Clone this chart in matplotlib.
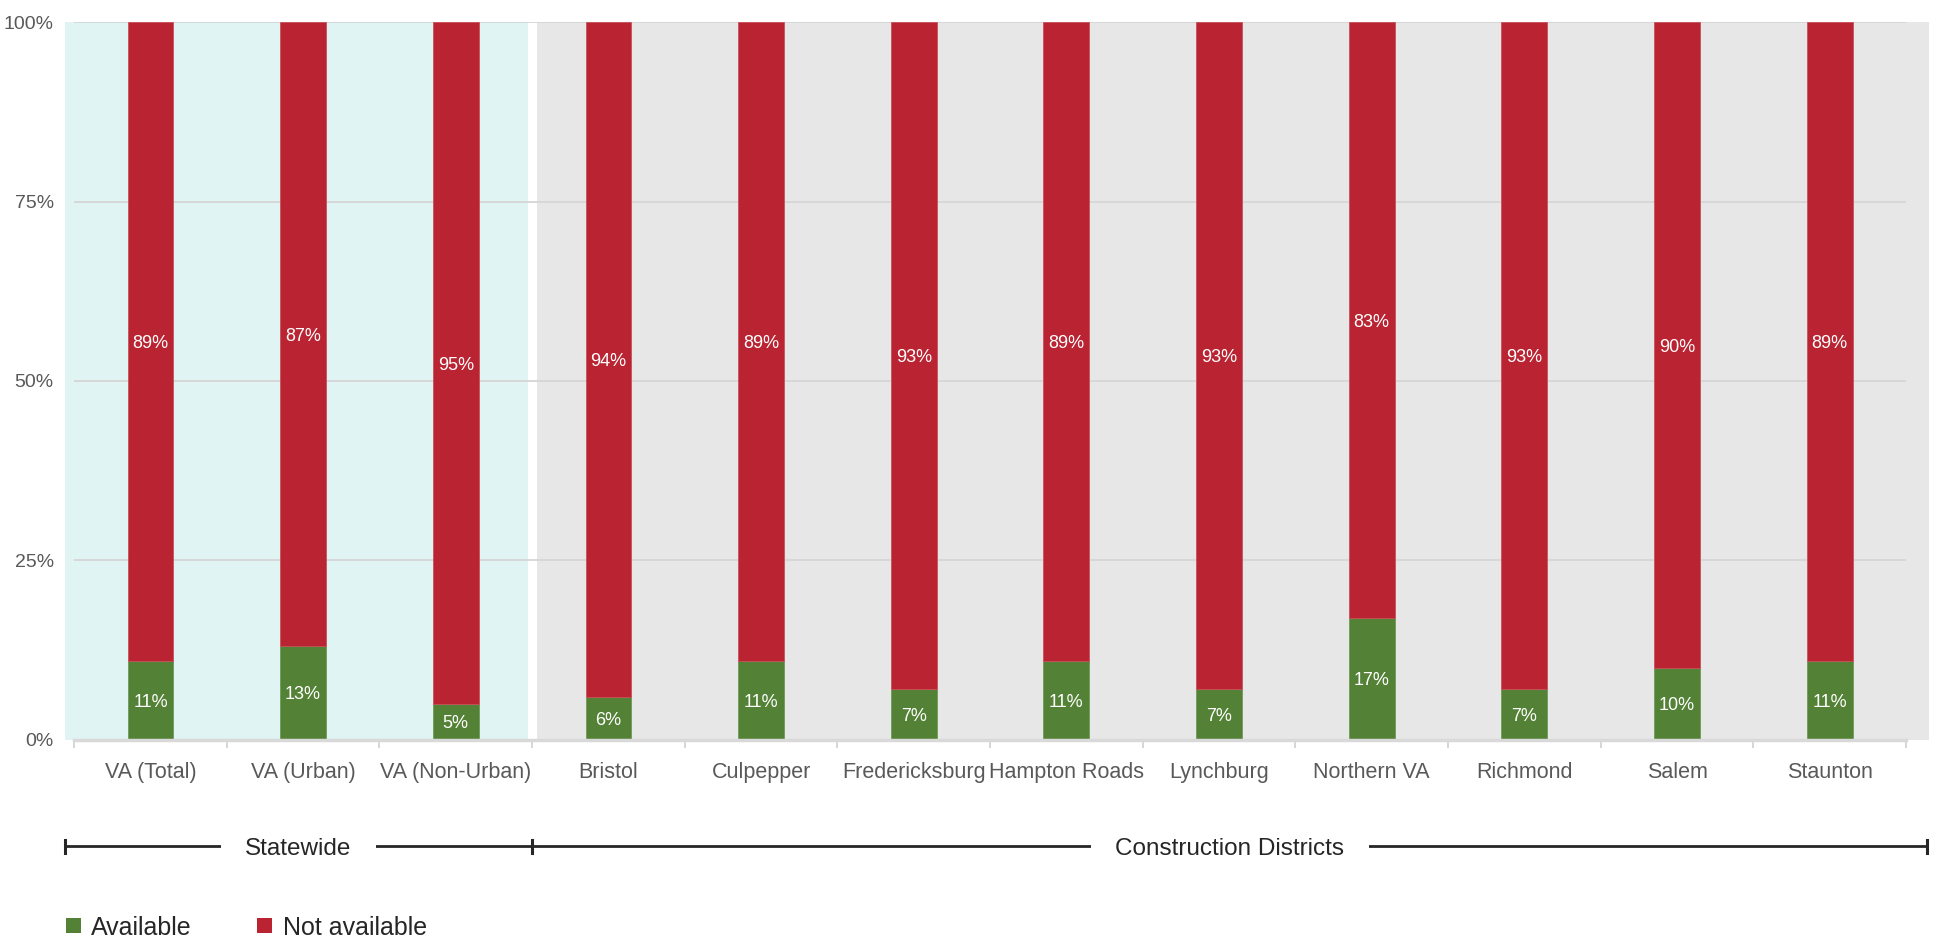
import matplotlib
matplotlib.use("Agg")
import matplotlib.pyplot as plt
from matplotlib.patches import Rectangle
from matplotlib.transforms import blended_transform_factory

categories = ["VA (Total)", "VA (Urban)", "VA (Non-Urban)", "Bristol", "Culpepper",
              "Fredericksburg", "Hampton Roads", "Lynchburg", "Northern VA",
              "Richmond", "Salem", "Staunton"]
available = [11, 13, 5, 6, 11, 7, 11, 7, 17, 7, 10, 11]
not_available = [89, 87, 95, 94, 89, 93, 89, 93, 83, 93, 90, 89]
series_names = ["Available", "Not available"]
groups = ["Statewide", "Construction Districts"]
group_sizes = [3, 9]
y_ticks = [0, 25, 50, 75, 100]

GREEN = "#538135"
RED = "#BA2331"
CYAN_BG = "#DFF4F3"
GRAY_BG = "#E7E7E7"
GRID = "#D6D6D6"
TXT = "#595959"
DARK = "#262626"

FONT = ["Liberation Sans", "DejaVu Sans"]
plt.rcParams["font.family"] = FONT

fig = plt.figure(figsize=(19.39, 9.40), dpi=100)
ax = fig.add_axes([0.0335, 0.2132, 0.9613, 0.763])
n = len(categories)
x = list(range(n))
ax.set_xlim(-0.56, 11.65)
ax.set_ylim(0, 100)

# background panels
ax.add_patch(Rectangle((-0.56, 0), 2.5 - 0.03 + 0.56, 100, facecolor=CYAN_BG, edgecolor="none", zorder=0))
ax.add_patch(Rectangle((2.53, 0), 11.65 - 2.53, 100, facecolor=GRAY_BG, edgecolor="none", zorder=0))

# gridlines
for yt in y_ticks[1:]:
    ax.plot([-0.5, 11.5], [yt, yt], color=GRID, lw=1.3, zorder=1, solid_capstyle="butt")
ax.plot([-0.5, 11.5], [0, 0], color="#D9D9D9", lw=2.5, zorder=3, clip_on=False)

bw = 0.30
ax.bar(x, available, width=bw, color=GREEN, edgecolor="#6E9A57", linewidth=0.6, zorder=2)
ax.bar(x, not_available, width=bw, bottom=available, color=RED, edgecolor="#C9505A", linewidth=0.6, zorder=2)

for i in range(n):
    ax.text(i, available[i] / 2, f"{available[i]}%", ha="center", va="center_baseline",
            color="white", fontsize=13, zorder=4)
    ax.text(i, available[i] + not_available[i] / 2, f"{not_available[i]}%", ha="center",
            va="center_baseline", color="white", fontsize=13, zorder=4)

for s in ax.spines.values():
    s.set_visible(False)

ax.set_yticks(y_ticks)
ax.set_yticklabels([f"{v}%" for v in y_ticks])
ax.tick_params(axis="y", length=0, pad=8, labelsize=14, labelcolor=TXT)
ax.set_xticks(x)
ax.set_xticklabels(categories)
ax.tick_params(axis="x", which="major", length=0, pad=16, labelsize=15.5, labelcolor=TXT)
ax.set_xticks([i - 0.5 for i in range(n + 1)], minor=True)
ax.tick_params(axis="x", which="minor", length=6, width=1.2, color="#D0D0D0")

# group brackets
tr = blended_transform_factory(ax.transData, ax.transAxes)
yl = -0.149
edges = [-0.56]
acc = -0.5
for gs in group_sizes:
    acc += gs
    edges.append(acc)
edges[-1] = 11.64
ax.plot([edges[0], edges[-1]], [yl, yl], color=DARK, lw=2, transform=tr, clip_on=False)
for e in edges:
    ax.plot([e, e], [yl - 0.009, yl + 0.009], color=DARK, lw=2.2, transform=tr, clip_on=False)
for gi, g in enumerate(groups):
    cx = (edges[gi] + edges[gi + 1]) / 2
    ax.text(cx, yl, g, ha="center", va="center_baseline", fontsize=17.5, color=DARK, transform=tr,
            bbox=dict(boxstyle="square,pad=1.0", facecolor="white", edgecolor="none"),
            clip_on=False, zorder=5)

# legend
leg_y = 1 - 925.5 / 940
sq_w = 15 / 1939
sq_h = 15 / 940
items = [(66, GREEN, series_names[0], 91), (257, RED, series_names[1], 283)]
for px, col, name, tx in items:
    fig.patches.append(Rectangle((px / 1939, leg_y - sq_h / 2), sq_w, sq_h, facecolor=col,
                                 edgecolor="none", transform=fig.transFigure, figure=fig))
    fig.text(tx / 1939, leg_y, name, ha="left", va="center_baseline", fontsize=18, color=DARK)

fig.savefig("out.png", dpi=100)
